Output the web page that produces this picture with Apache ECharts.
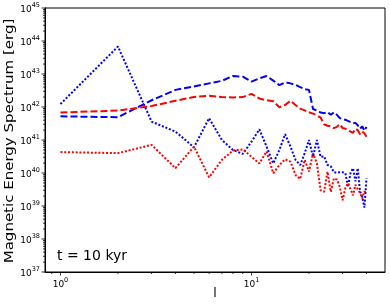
<!DOCTYPE html>
<html>
<head>
<meta charset="utf-8">
<script src="https://cdn.jsdelivr.net/npm/echarts@6/dist/echarts.min.js"></script>
<style>html,body{margin:0;padding:0;background:#fff}#c{width:390px;height:305px}</style>
</head>
<body>
<div id="c"></div>
<script>
const degrees = [1,2,3,4,5,6,7,8,9,10,11,12,13,14,15,16,17,18,19,20,21,22,23,24,25,26,27,28,29,30,31,32,33,34,35,36,37,38,39,40];
const blueDashed = [5.2e41,4.9e41,1.6e42,3.3e42,4.2e42,5.2e42,6.2e42,8.7e42,8.3e42,5.9e42,7.4e42,8.7e42,6.3e42,4.6e42,5.6e42,5.2e42,4.7e42,4.0e42,3.5e42,3.3e42,8.7e41,7.8e41,6.8e41,6.5e41,7.1e41,5.8e41,6.9e41,5.8e41,4.6e41,4.3e41,4.1e41,3.8e41,3.5e41,3.2e41,3.3e41,2.8e41,2.2e41,2.6e41,1.9e41,2.5e41];
const redDashed = [6.8e41,7.8e41,1.07e42,1.55e42,2.0e42,2.2e42,2.0e42,1.95e42,2.0e42,2.5e42,1.8e42,1.6e42,1.5e42,9.8e41,1.15e42,1.55e42,1.15e42,8.9e41,7.9e41,6.9e41,6.3e41,5.6e41,4.8e41,3.0e41,2.7e41,2.6e41,2.3e41,2.5e41,3.0e41,2.3e41,2.2e41,2.0e41,1.8e41,1.66e41,2.2e41,2.0e41,1.5e41,1.8e41,1.6e41,1.26e41];
const blueDotted = [1.23e42,6.8e43,3.6e41,1.8e41,6.0e40,4.6e41,1.0e41,5.0e40,3.8e40,8.9e40,2.1e41,6.3e40,1.95e40,5.0e40,1.5e41,6.3e40,2.5e40,1.74e40,4.0e40,1.0e41,3.1e40,1.0e41,3.1e40,3.2e40,1.74e40,1.6e40,1.05e40,1.02e40,1.05e40,1.05e40,1.0e40,3.8e39,1.0e40,1.4e40,5.6e39,1.4e40,2.8e39,1.9e39,8.9e38,6.9e39];
const redDotted = [4.3e40,4.0e40,7.1e40,1.4e40,6.3e40,7.4e39,2.5e40,4.8e40,5.2e40,3.1e40,1.95e40,4.5e40,9.8e39,1.74e40,2.6e40,2.2e40,8.7e39,6.6e39,2.5e40,1.1e40,4.0e40,1.95e40,3.0e39,2.7e39,1.1e40,2.7e39,6.9e39,6.3e39,3.8e39,1.5e39,3.5e39,4.9e39,3.2e39,2.1e39,4.4e39,3.2e39,2.5e39,1.7e39,2.8e39,2.4e39];
const xMajorTicks = [1, 10];
const xMinorTicks = [0.9,2,3,4,5,6,7,8,9,20,30,40];
const yMajorTicks = [1e37,1e38,1e39,1e40,1e41,1e42,1e43,1e44,1e45];
const annotation = 't = 10 kyr';
const xTitle = 'l';
const yTitle = 'Magnetic Energy Spectrum [erg]';

const X_MIN = 0.83, X_MAX = 50, Y_MIN = 1e37, Y_MAX = 1e45;
const yMinorTicks = [];
for (let e = 37; e < 45; e++) for (let m = 2; m <= 9; m++) yMinorTicks.push(m * Math.pow(10, e));

const tickData = [];
xMajorTicks.forEach(v => tickData.push(['x', v, 3.5]));
xMinorTicks.forEach(v => tickData.push(['x', v, 2]));
yMajorTicks.forEach(v => tickData.push(['y', v, 3.5]));
yMinorTicks.forEach(v => tickData.push(['y', v, 2]));

const FONT = 'DejaVu Sans';
const expFmt = v => {
  const e = Math.round(Math.log10(v));
  return '{b|10}{s|' + e + '}';
};
const rich = {
  b: {fontSize: 9, fontFamily: FONT, color: '#000', lineHeight: 12, verticalAlign: 'bottom'},
  s: {fontSize: 6.5, fontFamily: FONT, color: '#000', lineHeight: 12, verticalAlign: 'top', padding: [0,0,4,0]}
};

const chart = echarts.init(document.getElementById('c'), null, {renderer: 'canvas'});
const mk = (data, color, type) => ({
  type: 'line',
  data: degrees.map((d, i) => [d, data[i]]),
  symbol: 'none',
  lineStyle: {color: color, width: 2, type: type === 'dashed' ? [7, 3] : [2, 1.8]},
  itemStyle: {color: color},
  animation: false,
  z: 3
});
chart.setOption({
  animation: false,
  backgroundColor: '#fff',
  grid: {left: 45, right: 5, top: 8, bottom: 33, show: true, borderColor: '#000', borderWidth: 1, backgroundColor: 'transparent', containLabel: false, outerBoundsMode: 'none'},
  xAxis: {
    type: 'log', logBase: 10, min: X_MIN, max: X_MAX,
    axisLine: {show: true, lineStyle: {color: '#000', width: 1}},
    axisTick: {show: false},
    splitLine: {show: false},
    axisLabel: {formatter: expFmt, rich: rich, margin: 5, showMinLabel: false, showMaxLabel: false, color: '#000'}
  },
  yAxis: {
    type: 'log', logBase: 10, min: Y_MIN, max: Y_MAX, interval: 1,
    axisLine: {show: true, lineStyle: {color: '#000', width: 1}},
    axisTick: {show: false},
    splitLine: {show: false},
    axisLabel: {formatter: expFmt, rich: rich, margin: 5, color: '#000'}
  },
  graphic: [{
    type: 'text', left: 57, top: 249,
    style: {text: annotation, font: '14px "DejaVu Sans"', fill: '#000'}
  }, {
    type: 'text', x: 215, y: 287,
    style: {text: xTitle, font: '12.5px "DejaVu Sans"', fill: '#000', align: 'center', verticalAlign: 'top'}
  }, {
    type: 'text', x: 10, y: 141, rotation: Math.PI / 2, scaleX: 1.2,
    style: {text: yTitle, font: '12.5px "DejaVu Sans"', fill: '#000', align: 'center', verticalAlign: 'middle'}
  }],
  series: [
    mk(blueDashed, '#0000ff', 'dashed'),
    mk(redDashed, '#ff0000', 'dashed'),
    mk(blueDotted, '#0000ff', 'dotted'),
    mk(redDotted, '#ff0000', 'dotted'),
    {
      type: 'custom', data: tickData, silent: true, clip: false, animation: false, z: 5,
      renderItem: function (params, api) {
        const d = tickData[params.dataIndex];
        const len = d[2];
        if (d[0] === 'x') {
          const p = api.coord([d[1], Y_MIN]);
          return {type: 'line', shape: {x1: p[0], y1: p[1], x2: p[0], y2: p[1] + len}, style: {stroke: '#000', lineWidth: 0.8}};
        } else {
          const p = api.coord([X_MIN, d[1]]);
          return {type: 'line', shape: {x1: p[0], y1: p[1], x2: p[0] - len, y2: p[1]}, style: {stroke: '#000', lineWidth: 0.8}};
        }
      }
    }
  ]
});
</script>
</body>
</html>
